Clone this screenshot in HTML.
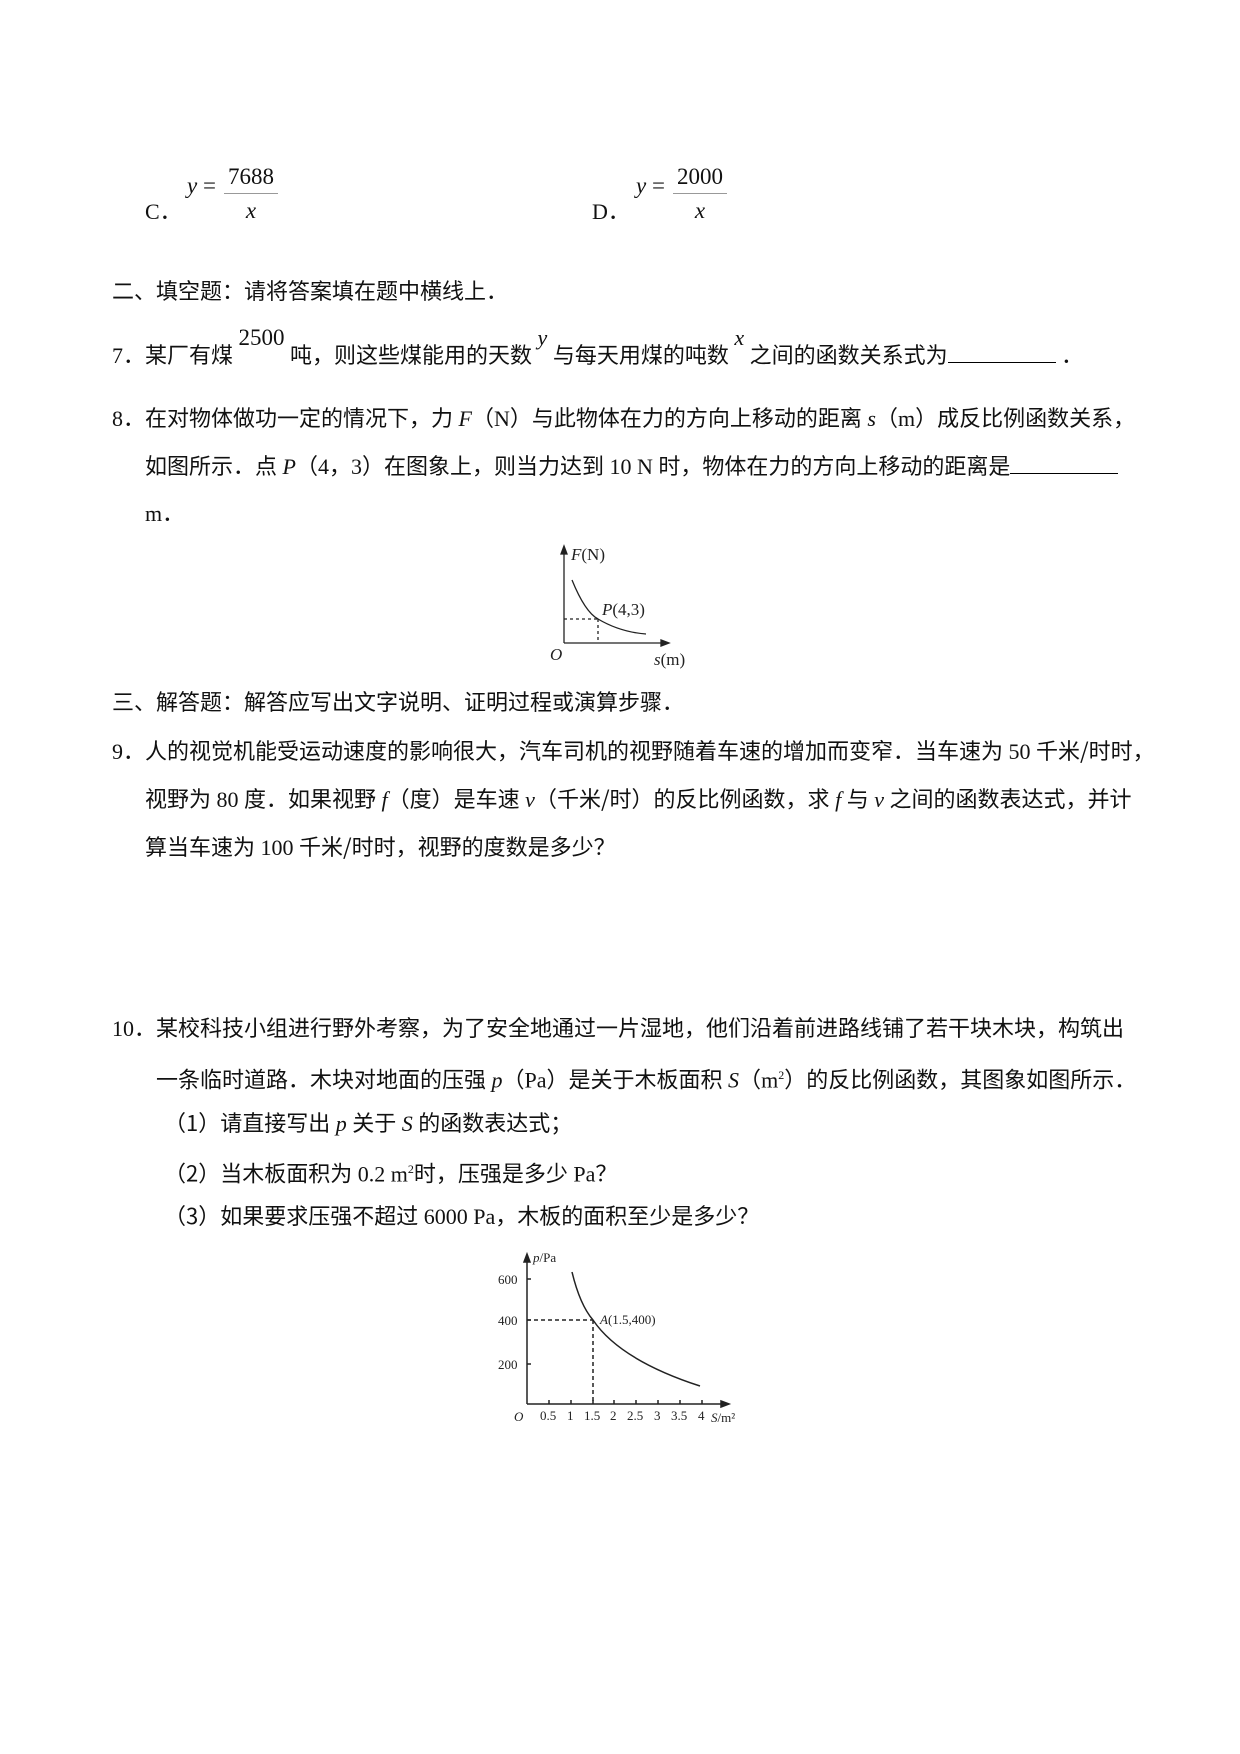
<!DOCTYPE html>
<html><head><meta charset="utf-8"><style>
body{margin:0;background:#fff;}
.p{position:relative;width:1240px;height:1754px;overflow:hidden;font-family:"Liberation Serif","Noto Sans CJK SC",serif;color:#111;}
.l{position:absolute;white-space:nowrap;font-size:22px;letter-spacing:0px;line-height:24px;font-family:"Liberation Serif","Noto Sans CJK SC",serif;}
.c{font-family:"Noto Sans CJK SC",sans-serif;}
i{font-style:italic;}
.u{display:inline-block;border-bottom:1px solid #000;height:20px;vertical-align:baseline;}
.fr{position:absolute;font-size:23px;text-align:center;}
</style></head><body><div class="p">

<div class="l" style="left:145px;top:200px">C．</div>
<div class="l" style="left:187px;top:174px;font-size:23px"><i>y</i> =</div>
<div class="fr" style="left:224px;top:164px;width:54px">7688</div>
<div style="position:absolute;left:224px;top:193px;width:54px;border-top:1px solid #999"></div>
<div class="fr" style="left:224px;top:198px;width:54px"><i>x</i></div>

<div class="l" style="left:592px;top:200px">D．</div>
<div class="l" style="left:636px;top:174px;font-size:23px"><i>y</i> =</div>
<div class="fr" style="left:673px;top:164px;width:54px">2000</div>
<div style="position:absolute;left:673px;top:193px;width:54px;border-top:1px solid #999"></div>
<div class="fr" style="left:673px;top:198px;width:54px"><i>x</i></div>

<div class="l c" style="left:112px;top:278px">二、填空题：请将答案填在题中横线上．</div>

<div class="l" style="left:112px;top:342px">7．<span class="c">某厂有煤</span> <span style="position:relative;top:-18px;font-size:23px">2500</span> <span class="c">吨，则这些煤能用的天数</span> <i style="position:relative;top:-18px">y</i> <span class="c">与每天用煤的吨数</span> <i style="position:relative;top:-18px">x</i> <span class="c">之间的函数关系式为</span><span class="u" style="width:108px"></span> ．</div>

<div class="l" style="left:112px;top:405px">8．<span class="c">在对物体做功一定的情况下，力</span> <i>F</i><span class="c">（</span>N<span class="c">）与此物体在力的方向上移动的距离</span> <i>s</i><span class="c">（</span>m<span class="c">）成反比例函数关系，</span></div>
<div class="l" style="left:145px;top:453px"><span class="c">如图所示．点</span> <i>P</i><span class="c">（</span>4<span class="c">，</span>3<span class="c">）在图象上，则当力达到</span> 10 N <span class="c">时，物体在力的方向上移动的距离是</span><span class="u" style="width:108px"></span></div>
<div class="l" style="left:145px;top:502px">m．</div>

<svg style="position:absolute;left:0;top:0" width="1240" height="1754">
<g stroke="#222" fill="none" stroke-width="1.3">
<line x1="564" y1="643" x2="564" y2="550"/><polygon points="564,546 561,554 567,554" fill="#222"/>
<line x1="564" y1="643" x2="665" y2="643"/><polygon points="669,643 661,640 661,646" fill="#222"/>
<path d="M572,580 Q585,612 598,619 Q620,632 646,634"/>
<line x1="564" y1="619" x2="598" y2="619" stroke-dasharray="3,3"/>
<line x1="598" y1="619" x2="598" y2="643" stroke-dasharray="3,3"/>
</g>
<g font-family="Liberation Serif" font-size="17" fill="#222">
<text x="571" y="560"><tspan font-style="italic">F</tspan>(N)</text>
<text x="602" y="615"><tspan font-style="italic">P</tspan>(4,3)</text>
<text x="550" y="660" font-style="italic">O</text>
<text x="654" y="665"><tspan font-style="italic">s</tspan>(m)</text>
</g>

<g stroke="#222" fill="none" stroke-width="1.5">
<line x1="527" y1="1404" x2="527" y2="1259"/><polygon points="527,1254 524,1262 530,1262" fill="#222"/>
<line x1="527" y1="1404" x2="723" y2="1404"/><polygon points="729,1404 721,1401 721,1407" fill="#222"/>
<path d="M572,1272 Q580,1305 593,1320 Q620,1360 700,1386"/>
<line x1="527" y1="1320" x2="593" y2="1320" stroke-dasharray="4,3"/>
<line x1="593" y1="1320" x2="593" y2="1404" stroke-dasharray="4,3"/>
<line x1="527" y1="1279" x2="531" y2="1279"/><line x1="527" y1="1320" x2="531" y2="1320"/><line x1="527" y1="1364" x2="531" y2="1364"/>
<line x1="549" y1="1404" x2="549" y2="1400"/><line x1="571" y1="1404" x2="571" y2="1400"/><line x1="593" y1="1404" x2="593" y2="1400"/><line x1="614" y1="1404" x2="614" y2="1400"/><line x1="636" y1="1404" x2="636" y2="1400"/><line x1="658" y1="1404" x2="658" y2="1400"/><line x1="680" y1="1404" x2="680" y2="1400"/><line x1="702" y1="1404" x2="702" y2="1400"/>
</g>
<g font-family="Liberation Serif" font-size="13" fill="#222">
<text x="533" y="1262"><tspan font-style="italic">p</tspan>/Pa</text>
<text x="498" y="1284">600</text><text x="498" y="1325">400</text><text x="498" y="1369">200</text>
<text x="600" y="1324"><tspan font-style="italic">A</tspan>(1.5,400)</text>
<text x="514" y="1421" font-style="italic">O</text>
<text x="540" y="1420">0.5</text><text x="567" y="1420">1</text><text x="584" y="1420">1.5</text><text x="610" y="1420">2</text><text x="627" y="1420">2.5</text><text x="654" y="1420">3</text><text x="671" y="1420">3.5</text><text x="698" y="1420">4</text>
<text x="711" y="1422"><tspan font-style="italic">S</tspan>/m²</text>
</g>
</svg>

<div class="l c" style="left:112px;top:689px">三、解答题：解答应写出文字说明、证明过程或演算步骤．</div>

<div class="l" style="left:112px;top:738px">9．<span class="c">人的视觉机能受运动速度的影响很大，汽车司机的视野随着车速的增加而变窄．当车速为</span> 50 <span class="c">千米/时时，</span></div>
<div class="l" style="left:145px;top:786px"><span class="c">视野为</span> 80 <span class="c">度．如果视野</span> <i>f</i><span class="c">（度）是车速</span> <i>v</i><span class="c">（千米/时）的反比例函数，求</span> <i>f</i> <span class="c">与</span> <i>v</i> <span class="c">之间的函数表达式，并计</span></div>
<div class="l" style="left:145px;top:834px"><span class="c">算当车速为</span> 100 <span class="c">千米/时时，视野的度数是多少？</span></div>

<div class="l" style="left:112px;top:1015px">10．<span class="c">某校科技小组进行野外考察，为了安全地通过一片湿地，他们沿着前进路线铺了若干块木块，构筑出</span></div>
<div class="l" style="left:156px;top:1063px"><span class="c">一条临时道路．木块对地面的压强</span> <i>p</i><span class="c">（</span>Pa<span class="c">）是关于木板面积</span> <i>S</i><span class="c">（</span>m<sup style="font-size:12px">2</sup><span class="c">）的反比例函数，其图象如图所示．</span></div>
<div class="l" style="left:164px;top:1110px"><span class="c">（1）请直接写出</span> <i>p</i> <span class="c">关于</span> <i>S</i> <span class="c">的函数表达式；</span></div>
<div class="l" style="left:164px;top:1157px"><span class="c">（2）当木板面积为</span> 0.2 m<sup style="font-size:12px">2</sup><span class="c">时，压强是多少</span> Pa<span class="c">？</span></div>
<div class="l" style="left:164px;top:1203px"><span class="c">（3）如果要求压强不超过</span> 6000 Pa<span class="c">，木板的面积至少是多少？</span></div>

</div></body></html>
